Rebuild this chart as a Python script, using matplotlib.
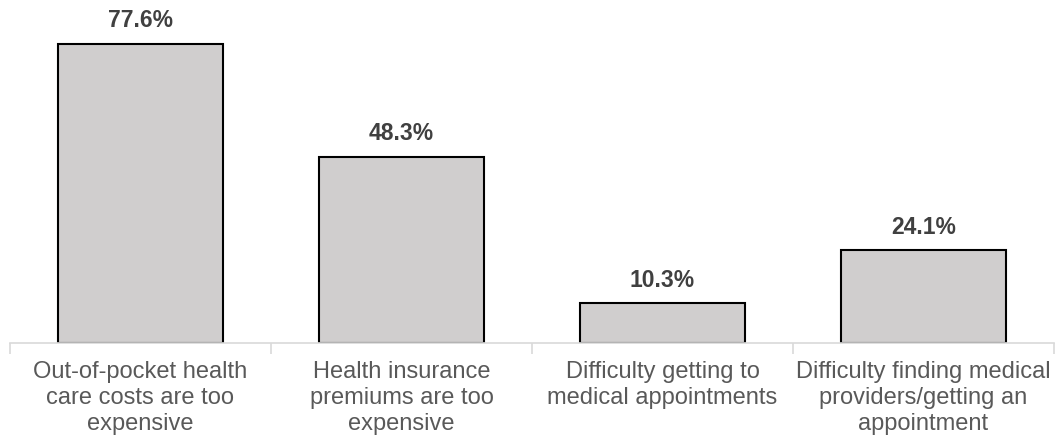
import matplotlib.pyplot as plt

# datos
categorias = ["Out-of-pocket health\ncare costs are too\nexpensive",
              "Health insurance\npremiums are too\nexpensive",
              "Difficulty getting to\nmedical appointments",
              "Difficulty finding medical\nproviders/getting an\nappointment"]
valores = [77.6, 48.3, 10.3, 24.1]

plt.rcParams['font.family'] = ['Liberation Sans', 'DejaVu Sans']

fig = plt.figure(figsize=(10.6, 4.42), dpi=100)
ax = fig.add_axes([10/1060, 1 - 343/442, 1044/1060, 343/442])

x = range(len(valores))
barras = ax.bar(x, valores, width=0.63, color='#d0cece', edgecolor='black', linewidth=1.5)

for xi, v in zip(x, valores):
    ax.text(xi, v + 3.0, f"{v:.1f}%", ha='center', va='bottom',
            fontsize=16.5, fontweight='bold', color='#404040')

ax.set_xlim(-0.5, len(valores) - 0.5)
ax.set_ylim(0, 89)
ax.set_yticks([])
for s in ['top', 'right', 'left']:
    ax.spines[s].set_visible(False)
ax.spines['bottom'].set_color('#d9d9d9')
ax.spines['bottom'].set_linewidth(1.2)

ax.set_xticks([i - 0.5 for i in range(len(valores) + 1)], minor=False)
ax.set_xticklabels([])
ax.tick_params(axis='x', which='major', length=8, color='#d9d9d9', width=1.2)
ax.set_xticks(list(x), minor=True)
ax.set_xticklabels(categorias, minor=True, fontsize=17, color='#595959', linespacing=1.22)
ax.tick_params(axis='x', which='minor', length=0, pad=13)

fig.savefig('out.png', dpi=100)
